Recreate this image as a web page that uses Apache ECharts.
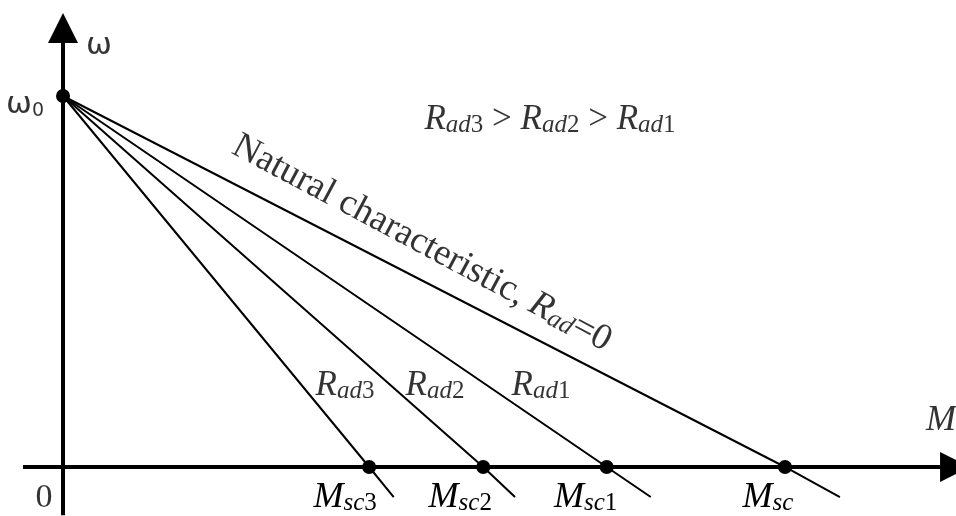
<!DOCTYPE html>
<html>
<head>
<meta charset="utf-8">
<title>Speed–torque characteristics</title>
<script src="https://cdn.jsdelivr.net/npm/echarts@6/dist/echarts.min.js"></script>
<style>
  html, body { margin: 0; padding: 0; background: #fff; }
  #chart { width: 956px; height: 516px; }
</style>
</head>
<body>
<div id="chart"></div>
<script>
// Torque and speed are in relative units: ideal no-load speed ω0 = 1,
// short-circuit torque of the natural characteristic M_sc = 1.
const omega0 = 1;
const characteristicNames = ['R_ad3', 'R_ad2', 'R_ad1', 'R_ad=0'];
const shortCircuitTorque = [0.424, 0.582, 0.753, 1.0];   // M_sc3, M_sc2, M_sc1, M_sc
const lineEndTorque = [0.458, 0.626, 0.814, 1.076];      // where each line stops below the M axis
const lineEndSpeed = -0.081;
const torqueSubscripts = ['sc3', 'sc2', 'sc1', 'sc'];
const resistanceSubscripts = ['ad3', 'ad2', 'ad1'];

// Visible window of the coordinate plane
const X_MIN = -0.0873, X_MAX = 1.2368;
const Y_MIN = -0.1321, Y_MAX = 1.2588;

const SERIF = "'Liberation Serif', 'Times New Roman', serif";
const SANS = "'DejaVu Sans', sans-serif";

const ink = { color: '#000', textBorderWidth: 0, textShadowBlur: 0, verticalAlign: 'bottom' };

// Rich-text styles: italic symbol with a lowered, smaller subscript
const rich = {
  R:  Object.assign({ fontFamily: SERIF, fontStyle: 'italic', fontSize: 35, lineHeight: 35 }, ink),
  M:  Object.assign({ fontFamily: SERIF, fontStyle: 'italic', fontSize: 36, lineHeight: 36 }, ink),
  s:  Object.assign({ fontFamily: SERIF, fontStyle: 'italic', fontSize: 25, lineHeight: 25 }, ink),
  n:  Object.assign({ fontFamily: SERIF, fontSize: 25, lineHeight: 25 }, ink),
  op: Object.assign({ fontFamily: SERIF, fontSize: 35, lineHeight: 35 }, ink),
  t:  Object.assign({ fontFamily: SERIF, fontSize: 37, lineHeight: 37 }, ink),
  Rt: Object.assign({ fontFamily: SERIF, fontStyle: 'italic', fontSize: 37, lineHeight: 37 }, ink),
  st: Object.assign({ fontFamily: SERIF, fontStyle: 'italic', fontSize: 26, lineHeight: 26 }, ink),
  z:  Object.assign({ fontFamily: SERIF, fontSize: 34, lineHeight: 34 }, ink),
  w:  Object.assign({ fontFamily: SANS, fontSize: 31, lineHeight: 31 }, ink),
  w0: Object.assign({ fontFamily: SANS, fontSize: 19, lineHeight: 19 }, ink)
};

const symbolWithSub = (main, sub) => {
  const m = sub.match(/^([a-z]+)(\d*)$/);
  return `{${main}|${main === 'M' ? 'M' : 'R'}}{s|${m[1]}}` + (m[2] ? `{n|${m[2]}}` : '');
};

// Straight characteristics: ω0 → M_sc → a short tail below the axis
const characteristicSeries = shortCircuitTorque.map((msc, i) => ({
  name: characteristicNames[i],
  type: 'line',
  data: [[0, omega0], [msc, 0], [lineEndTorque[i], lineEndSpeed]],
  showSymbol: false,
  lineStyle: { color: '#000', width: 2 },
  z: 2
}));

// Label anchors (data coordinates)
const resistanceLabelAt = [[0.3906, 0.2183], [0.5152, 0.2183], [0.662, 0.2183]];
const torqueLabelOffset = [[-24, 31], [-23, 31], [-21, 31], [-17, 31]];

const textItems = [
  { value: [0.6745, 0.9353],
    text: symbolWithSub('R', 'ad3') + '{op| > }' + symbolWithSub('R', 'ad2') + '{op| > }' + symbolWithSub('R', 'ad1') },
  { value: [0.497, 0.603], rotate: -28,
    text: '{t|Natural characteristic, }{Rt|R}{st|ad}{t|=0}' },
  { value: [0.0499, 1.1348], text: '{w|ω}' },
  { value: [-0.0526, 0.975], text: '{w|ω}{w0|0}' },
  { value: [-0.0263, -0.0836], text: '{z|0}' },
  { value: [1.2161, 0.124], text: '{M|M}' }
].concat(resistanceSubscripts.map((sub, i) => ({
  value: resistanceLabelAt[i], text: symbolWithSub('R', sub)
})));

const labelBase = { show: true, position: 'inside', color: '#000', textBorderWidth: 0, rich };

const option = {
  animation: false,
  backgroundColor: '#fff',
  grid: { left: 0, right: 0, top: 0, bottom: 0 },
  xAxis: { type: 'value', min: X_MIN, max: X_MAX, show: false },
  yAxis: { type: 'value', min: Y_MIN, max: Y_MAX, show: false },
  series: [
    // Coordinate axes drawn as arrows
    {
      type: 'line',
      data: [],
      silent: true,
      markLine: {
        silent: true,
        symbol: ['none', 'triangle'],
        symbolSize: [30, 30],
        label: { show: false },
        lineStyle: { color: '#000', width: 4, type: 'solid' },
        itemStyle: { color: '#000' },
        emphasis: { disabled: true },
        data: [
          [{ coord: [0, -0.13] }, { coord: [0, 1.1833] }],
          [{ coord: [-0.0554, 0] }, { coord: [1.2355, 0] }]
        ]
      }
    },
    ...characteristicSeries,
    // Ideal no-load point and short-circuit points
    {
      type: 'scatter',
      silent: true,
      symbolSize: 14,
      itemStyle: { color: '#000', opacity: 1 },
      z: 4,
      data: [[0, omega0]].concat(shortCircuitTorque.map((msc, i) => ({
        value: [msc, 0],
        label: Object.assign({}, labelBase, {
          offset: torqueLabelOffset[i],
          formatter: symbolWithSub('M', torqueSubscripts[i])
        })
      })))
    },
    // Text annotations
    {
      type: 'scatter',
      silent: true,
      symbolSize: 1,
      itemStyle: { color: 'rgba(0,0,0,0)' },
      z: 5,
      data: textItems.map(it => ({
        value: it.value,
        label: Object.assign({}, labelBase, {
          rotate: it.rotate || 0,
          formatter: it.text
        })
      }))
    }
  ]
};

const chart = echarts.init(document.getElementById('chart'), null, { renderer: 'canvas' });
chart.setOption(option);
</script>
</body>
</html>
